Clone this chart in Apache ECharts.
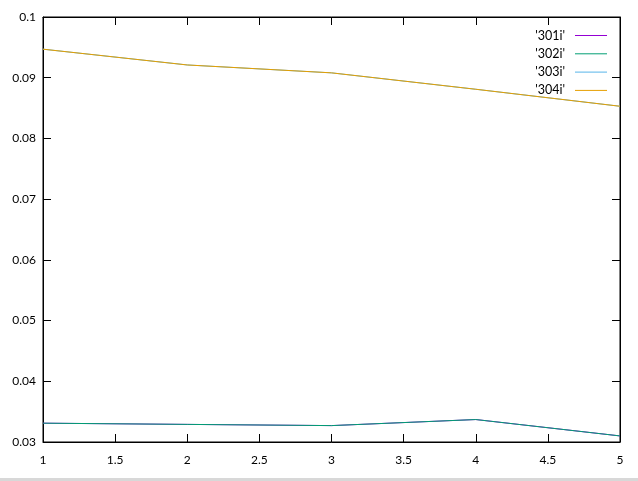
<!DOCTYPE html>
<html><head><meta charset="utf-8">
<script src="https://cdn.jsdelivr.net/npm/echarts@6/dist/echarts.min.js"></script>
<style>html,body{margin:0;padding:0;background:#fff}#c{width:638px;height:481px}</style>
</head><body><div id="c"></div>
<script>
var xValues = [1, 2, 3, 4, 5];
var s301i = [0.0331, 0.0329, 0.0327, 0.0337, 0.0310];
var s302i = [0.0331, 0.0329, 0.0327, 0.0337, 0.0310];
var s303i = [0.0947, 0.0921, 0.0908, 0.0881, 0.0853];
var s304i = [0.0947, 0.0921, 0.0908, 0.0881, 0.0853];
var seriesNames = ["'301i'", "'302i'", "'303i'", "'304i'"];
var colors = ['#9400d3', '#009e73', '#56b4e9', '#e69f00'];

function pairs(ys){ return xValues.map(function(x,i){ return [x, ys[i]]; }); }
var all = [s301i, s302i, s303i, s304i];
var font = 'Lato, "Open Sans", sans-serif';
var chart = echarts.init(document.getElementById('c'));
var tick = {show:true, inside:true, length:8, lineStyle:{color:'#000', width:1}};
chart.setOption({
  animation:false,
  backgroundColor:'#fff',
  grid:{left:43, right:18, top:17, bottom:39, show:true, borderColor:'#000', borderWidth:1},
  legend:{
    orient:'vertical', right:26, top:24, align:'right', itemGap:5.3,
    icon:'rect', itemWidth:32, itemHeight:1,
    textStyle:{fontFamily:font, fontSize:12.5, color:'#000', padding:[0,5,0,0]},
    data: seriesNames
  },
  xAxis:[
    {type:'value', min:1, max:5, interval:0.5, position:'bottom',
     axisLine:{show:true, onZero:false, lineStyle:{color:'#000'}}, axisTick:tick, splitLine:{show:false},
     axisLabel:{fontFamily:font, fontSize:12, color:'#000', margin:12}},
    {type:'value', min:1, max:5, interval:0.5, position:'top',
     axisLine:{show:true, onZero:false, lineStyle:{color:'#000'}}, axisTick:tick, splitLine:{show:false},
     axisLabel:{show:false}}
  ],
  yAxis:[
    {type:'value', min:0.03, max:0.1, interval:0.01, position:'left',
     axisLine:{show:true, onZero:false, lineStyle:{color:'#000'}}, axisTick:tick, splitLine:{show:false},
     axisLabel:{fontFamily:font, fontSize:12, color:'#000', margin:7,
       formatter:function(v){ return String(+v.toFixed(2)); }}},
    {type:'value', min:0.03, max:0.1, interval:0.01, position:'right',
     axisLine:{show:true, onZero:false, lineStyle:{color:'#000'}}, axisTick:tick, splitLine:{show:false},
     axisLabel:{show:false}}
  ],
  series: all.map(function(ys,i){
    return {name:seriesNames[i], type:'line', data:pairs(ys), showSymbol:false, symbol:'none',
      lineStyle:{color:colors[i], width:1}, itemStyle:{color:colors[i]}, z:2+i};
  }),
  graphic:[{type:'rect', shape:{x:0, y:478, width:638, height:3}, style:{fill:'#d8d8d8'}, silent:true}]
});
</script></body></html>
